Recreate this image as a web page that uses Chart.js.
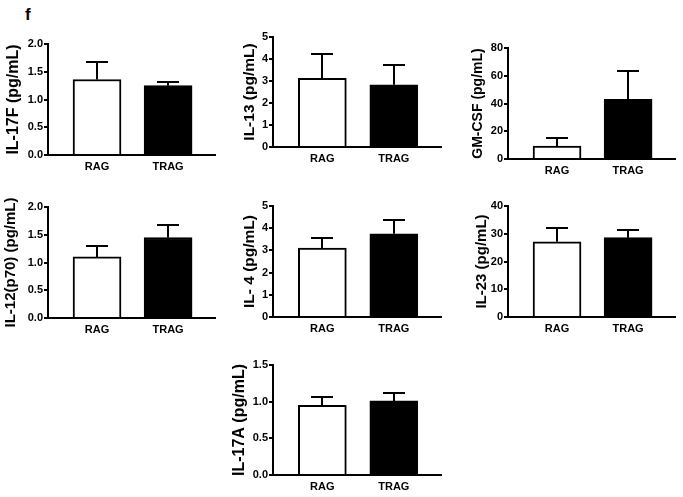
<!DOCTYPE html>
<html><head><meta charset="utf-8">
<script src="https://cdn.jsdelivr.net/npm/chart.js@4.4.1/dist/chart.umd.min.js"></script>
<style>
html,body{margin:0;padding:0;background:#fff;}
body{width:683px;height:497px;position:relative;overflow:hidden;font-family:"Liberation Sans",Arial,sans-serif;}
canvas{position:absolute;}
#tag{position:absolute;left:25px;top:6px;font:bold 17px/17px "Liberation Sans",Arial,sans-serif;color:#000;}
</style></head><body>
<div id="tag">f</div>
<script>
// ---- data ----
const categories = ['RAG', 'TRAG'];
const yTitles = ['IL-17F (pg/mL)', 'IL-13 (pg/mL)', 'GM-CSF (pg/mL)', 'IL-12(p70) (pg/mL)', 'IL- 4 (pg/mL)', 'IL-23 (pg/mL)', 'IL-17A (pg/mL)'];

const il17fMean = [1.36, 1.25];  const il17fSem = [0.32, 0.06];
const il13Mean  = [3.12, 2.83];  const il13Sem  = [1.09, 0.92];
const gmcsfMean = [9.3, 43.0];   const gmcsfSem = [5.7, 20.3];
const il12Mean  = [1.10, 1.45];  const il12Sem  = [0.20, 0.23];
const il4Mean   = [3.10, 3.75];  const il4Sem   = [0.45, 0.60];
const il23Mean  = [27.1, 28.6];  const il23Sem  = [5.0, 2.8];
const il17aMean = [0.95, 1.01];  const il17aSem = [0.12, 0.11];

const yMax = [2, 5, 80, 2, 5, 40, 1.5];
const yStep = [0.5, 1, 20, 0.5, 1, 10, 0.5];
const yTickDecimals = [1, 0, 0, 1, 0, 0, 1];

const means = [il17fMean, il13Mean, gmcsfMean, il12Mean, il4Mean, il23Mean, il17aMean];
const sems  = [il17fSem, il13Sem, gmcsfSem, il12Sem, il4Sem, il23Sem, il17aSem];

// ---- layout (pixel geometry of each panel's plot area) ----
const layouts = [
  {axL: 48,  axR: 215, top: 44,  bottom: 155, yW: 44, tSize: 16},
  {axL: 273, axR: 441, top: 37,  bottom: 147, yW: 33, tSize: 15.5},
  {axL: 508, axR: 675, top: 48,  bottom: 159, yW: 38, tSize: 14},
  {axL: 48,  axR: 215, top: 207, bottom: 318, yW: 46, tSize: 15},
  {axL: 273, axR: 441, top: 206, bottom: 317, yW: 33, tSize: 15.5},
  {axL: 508, axR: 675, top: 206, bottom: 317, yW: 35, tSize: 15},
  {axL: 273, axR: 441, top: 365, bottom: 475, yW: 43, tSize: 16}
];
const PT = 10, PR = 4, XH = 24;
const xMin = -0.69, xMax = 1.66;
const FONT = '"Liberation Sans", Arial, sans-serif';

function errorBars(sem) {
  return {
    id: 'errorBars',
    afterDatasetsDraw(chart) {
      const ctx = chart.ctx;
      const meta = chart.getDatasetMeta(0);
      const ys = chart.scales.y;
      const ds = chart.data.datasets[0];
      ctx.save();
      ctx.strokeStyle = '#000';
      ctx.lineWidth = 2;
      meta.data.forEach((bar, i) => {
        const v = ds.data[i].y;
        const x = Math.round(bar.x);
        const y0 = ys.getPixelForValue(v);
        const y1 = Math.round(ys.getPixelForValue(v + sem[i]));
        ctx.beginPath();
        ctx.moveTo(x, y0);
        ctx.lineTo(x, y1);
        ctx.moveTo(x - 11, y1);
        ctx.lineTo(x + 11, y1);
        ctx.stroke();
      });
      ctx.restore();
    }
  };
}

layouts.forEach((L, p) => {
  const cv = document.createElement('canvas');
  const w = L.yW + (L.axR - L.axL) + PR;
  const h = PT + (L.bottom - L.top) + XH;
  cv.width = w; cv.height = h;
  cv.style.left = (L.axL - L.yW) + 'px';
  cv.style.top = (L.top - PT) + 'px';
  cv.style.width = w + 'px'; cv.style.height = h + 'px';
  document.body.appendChild(cv);

  new Chart(cv, {
    type: 'bar',
    data: {
      datasets: [{
        data: categories.map((c, i) => ({x: i, y: means[p][i]})),
        backgroundColor: ['#ffffff', '#000000'],
        borderColor: '#000000',
        borderWidth: 2,
        borderSkipped: 'start',
        barThickness: 48
      }]
    },
    options: {
      responsive: false,
      animation: false,
      devicePixelRatio: 1,
      layout: {padding: {left: 0, right: PR, top: PT, bottom: 0}},
      plugins: {legend: {display: false}, tooltip: {enabled: false}},
      scales: {
        x: {
          type: 'linear',
          offset: false,
          min: xMin, max: xMax,
          afterBuildTicks: s => { s.ticks = categories.map((c, i) => ({value: i})); },
          afterFit: s => { s.height = XH; },
          grid: {display: false, drawTicks: false, offset: false},
          border: {display: true, color: '#000', width: 2},
          ticks: {
            autoSkip: false, maxRotation: 0, padding: 5,
            color: '#000', font: {family: FONT, size: 11, weight: 'bold'},
            callback: v => categories[v] ?? ''
          }
        },
        y: {
          min: 0, max: yMax[p],
          afterFit: s => { s.width = L.yW; },
          grid: {display: true, drawOnChartArea: false, drawTicks: true, tickLength: 4, color: '#000', lineWidth: 2},
          border: {display: true, color: '#000', width: 2},
          ticks: {
            stepSize: yStep[p], padding: 1,
            color: '#000', font: {family: FONT, size: 11, weight: 'bold'},
            callback: v => Number(v).toFixed(yTickDecimals[p])
          },
          title: {
            display: true, text: yTitles[p], color: '#000',
            padding: 0,
            font: {family: FONT, size: L.tSize, weight: 'bold', lineHeight: 1.2}
          }
        }
      }
    },
    plugins: [errorBars(sems[p])]
  });
});
</script>
</body></html>
